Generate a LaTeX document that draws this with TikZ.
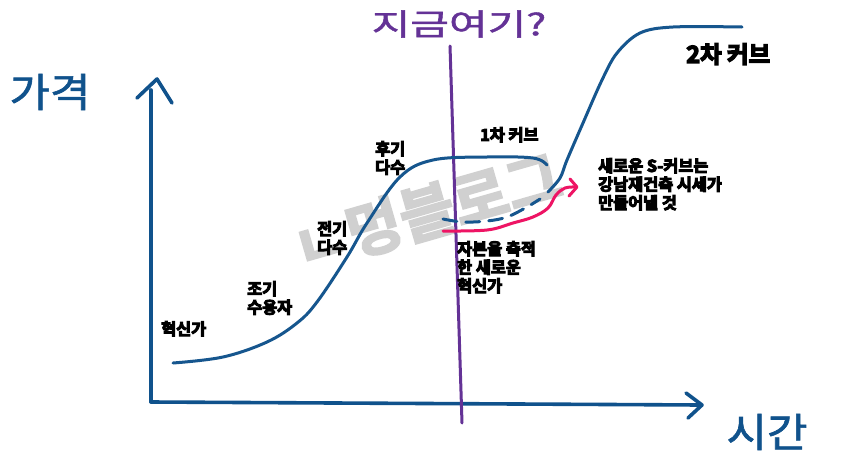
\documentclass[tikz,border=0pt]{standalone}
\usepackage{fontspec}
\setmainfont{Noto Sans CJK KR}
\newfontfamily\heavy{Noto Sans CJK KR Bold}
\newcommand\strokeon[1]{\special{pdf:literal direct 2 Tr #1 w}}
\newcommand\strokeoff{\special{pdf:literal direct 0 Tr}}
\newcommand\nl{\\\strokeon{1}}
\definecolor{axisblue}{RGB}{16,82,140}
\definecolor{curveblue}{RGB}{22,86,142}
\definecolor{purp}{RGB}{100,50,150}
\definecolor{pinkc}{RGB}{238,20,100}
\definecolor{wm}{RGB}{208,208,208}
\tikzset{
  axisline/.style={draw=axisblue,line width=3.6pt,line cap=round,line join=round},
  curveline/.style={draw=curveblue,line width=3pt,line cap=round,line join=round},
  hand/.style={inner sep=0pt,xscale=1.1,font=\fontsize{40}{44}\selectfont},
  lbl/.style={inner sep=0pt,anchor=north west,align=left,font=\heavy\fontsize{16.3}{18.5}\selectfont},
}
\begin{document}
\begin{tikzpicture}[x=1pt,y=-1pt]
\useasboundingbox[fill=white] (0,0) rectangle (841,458);
% watermark
\node[text=wm,rotate=16,inner sep=0pt,font=\heavy\fontsize{60}{60}\selectfont] (wmark) at (427,212) {\strokeon{2}ㄴ멍블로그\strokeoff};
% axes
\coordinate (o) at (151,402);
\coordinate (ytop) at (157,79);
\coordinate (xend) at (700,405);
\draw[axisline] (o) -- (151,90);
\draw[axisline] (137,98) -- (ytop) -- (172,103);
\draw[axisline] (o) -- (xend);
\draw[axisline] (686,393) -- (702,405) -- (688,418);
\node[hand,text=axisblue] (price) at (50,92) {\strokeon{0.6}가격\strokeoff};
\node[hand,text=axisblue] (time) at (767,432) {\strokeon{0.6}시간\strokeoff};
% purple line
\draw[draw=purp,line width=3pt,line cap=round] (450,46) -- (462,423);
\fill[purp] (450,47) circle (1.4pt);
\node[inner sep=0pt,text=purp,xscale=1.4,font=\fontsize{30}{34}\selectfont] (here) at (459,24) {\strokeon{0.4}지금여기?\strokeoff};
% first curve
\draw[curveline] plot[smooth,tension=0.6] coordinates {(173,363) (223,357) (267,342) (297,323) (317,302) (347,257) (367,223) (400,177) (433,160) (487,157) (533,158) (547,165)};
% dashed part
\draw[curveline,dash pattern=on 14pt off 9pt] plot[smooth,tension=0.6] coordinates {(443,219) (463,222) (487,221) (507,217) (527,207) (540,199)};
% second curve
\draw[curveline] plot[smooth,tension=0.55] coordinates {(548,192) (560,178) (567,160) (583,123) (602,80) (617,53) (640,33) (673,27) (742,27)};
% pink curve
\draw[draw=pinkc,line width=3pt,line cap=round,line join=round] plot[smooth,tension=0.6] coordinates {(443,231) (487,230) (513,223) (533,217) (548,208) (556,195) (565,188) (576,187)};
\draw[draw=pinkc,line width=3pt,line cap=round,line join=round] (570,179) -- (577,187) -- (569,196);
% labels
\node[lbl] (l2) at (686,43) {\fontsize{23.5}{25}\selectfont\strokeon{1.3}2차 커브\strokeoff};
\node[lbl] (l1) at (480,127) {\strokeon{1}1차 커브\strokeoff};
\node[lbl] (late) at (375,141) {\strokeon{1}후기\nl 다수\strokeoff};
\node[lbl] (early) at (317,221) {\strokeon{1}전기\nl 다수\strokeoff};
\node[lbl] (adopt) at (247,281) {\strokeon{1}조기\nl 수용자\strokeoff};
\node[lbl] (innov) at (161,321) {\strokeon{1}혁신가\strokeoff};
\node[lbl] (newinn) at (457,241) {\strokeon{1}자본을 축적\nl 한 새로운\nl 혁신가\strokeoff};
\node[lbl] (news) at (598,158) {\strokeon{1}새로운 S-커브는\nl 강남재건축 시세가\nl 만들어낼 것\strokeoff};
\end{tikzpicture}
\end{document}
